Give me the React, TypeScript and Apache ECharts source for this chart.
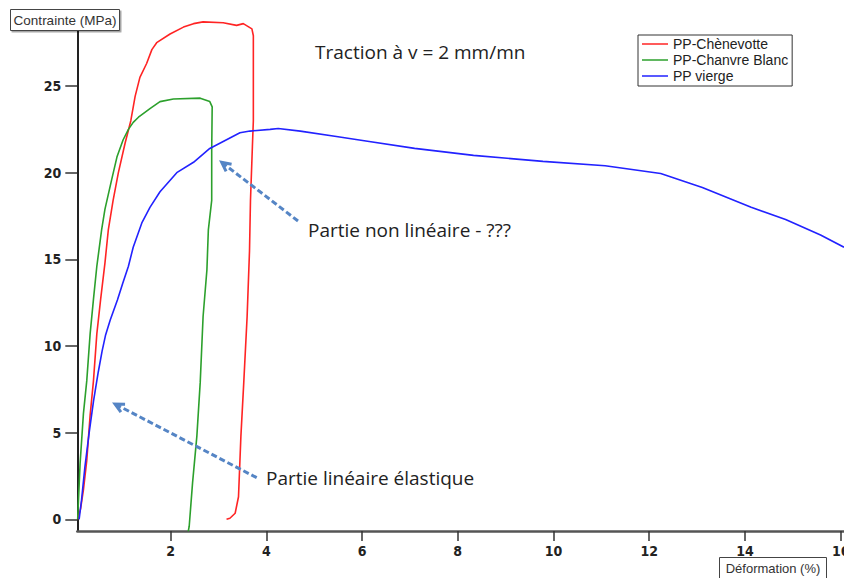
import React, { useEffect, useRef } from "react";
import * as echarts from "echarts";

// ---- data ----
const seriesNames = ["PP-Chènevotte", "PP-Chanvre Blanc", "PP vierge"];

const redStrain = [0.06, 0.12, 0.18, 0.25, 0.32, 0.39, 0.46, 0.54, 0.63, 0.70, 0.80, 0.91, 1.05, 1.17, 1.26, 1.36, 1.50, 1.61, 1.71, 1.99, 2.27, 2.48, 2.68, 3.10, 3.38, 3.52, 3.70, 3.73, 3.73, 3.71, 3.67, 3.65, 3.60, 3.53, 3.47, 3.42, 3.35, 3.24, 3.17];
const redStress = [0, 0.6, 1.7, 3.4, 6.0, 8.0, 10.7, 12.7, 14.8, 16.7, 18.4, 20.0, 21.7, 23.0, 24.4, 25.5, 26.3, 27.1, 27.5, 28.0, 28.4, 28.6, 28.7, 28.65, 28.5, 28.6, 28.3, 27.9, 23.0, 21.5, 18.4, 15.5, 11.7, 7.9, 4.8, 1.3, 0.35, 0.06, 0];

const greenStrain = [0.06, 0.07, 0.11, 0.18, 0.25, 0.32, 0.39, 0.46, 0.56, 0.63, 0.77, 0.88, 1.01, 1.12, 1.22, 1.33, 1.57, 1.78, 2.06, 2.62, 2.82, 2.87, 2.86, 2.86, 2.79, 2.76, 2.68, 2.62, 2.55, 2.46, 2.39, 2.37];
const greenStress = [0, 0.7, 3.2, 6.1, 8.0, 10.7, 12.7, 14.6, 16.7, 17.9, 19.6, 20.9, 21.9, 22.5, 22.9, 23.2, 23.7, 24.1, 24.25, 24.3, 24.1, 23.8, 21.3, 18.4, 16.7, 14.4, 11.7, 7.9, 4.8, 2.1, -0.4, -0.7];

const blueStrain = [0.09, 0.14, 0.21, 0.30, 0.39, 0.49, 0.57, 0.64, 0.74, 0.89, 1.00, 1.12, 1.22, 1.40, 1.57, 1.78, 2.13, 2.48, 2.82, 3.17, 3.45, 3.66, 4.08, 4.25, 4.71, 5.43, 6.15, 7.10, 8.33, 9.78, 11.08, 12.24, 13.11, 14.13, 14.85, 15.58, 16.07];
const blueStress = [0, 1.1, 3.0, 5.0, 6.8, 8.5, 9.7, 10.6, 11.5, 12.65, 13.6, 14.6, 15.7, 17.1, 18.0, 18.9, 20.0, 20.6, 21.4, 21.9, 22.3, 22.4, 22.5, 22.55, 22.4, 22.1, 21.8, 21.4, 21.0, 20.65, 20.4, 19.95, 19.15, 18.0, 17.3, 16.4, 15.7];

const xTicks = [2, 4, 6, 8, 10, 12, 14, 16];
const yTicks = [0, 5, 10, 15, 20, 25];

const colors = ["#ff2424", "#2ca02c", "#2222ff"];

const zip = (a: number[], b: number[]) => a.map((v, i) => [v, b[i]]);

const arrowColor = "#5585c5";

function arrow(x1: number, y1: number, x2: number, y2: number) {
  const dx = x2 - x1;
  const dy = y2 - y1;
  const len = Math.sqrt(dx * dx + dy * dy);
  const ux = dx / len;
  const uy = dy / len;
  const px = -uy;
  const py = ux;
  const bx = x2 - 9 * ux;
  const by = y2 - 9 * uy;
  return [
    {
      type: "line",
      shape: { x1, y1, x2: x2 - 2 * ux, y2: y2 - 2 * uy },
      style: { stroke: arrowColor, lineWidth: 3, lineDash: [6, 3] },
      z: 10,
    },
    {
      type: "polyline",
      shape: {
        points: [
          [bx + 4.5 * px, by + 4.5 * py],
          [x2, y2],
          [bx - 4.5 * px, by - 4.5 * py],
        ],
      },
      style: { stroke: arrowColor, lineWidth: 3, fill: null },
      z: 10,
    },
  ];
}

export default function App() {
  const ref = useRef<HTMLDivElement>(null);

  useEffect(() => {
    if (!ref.current) return;
    const chart = echarts.init(ref.current, undefined, { renderer: "svg" });
    const tickFont = {
      fontFamily: "'Liberation Sans Narrow', 'DejaVu Sans Condensed', 'Liberation Sans', sans-serif",
      fontWeight: "bold" as const,
      fontSize: 14,
      color: "#222",
    };
    const annFont = "'Open Sans', Lato, sans-serif";
    chart.setOption({
      animation: false,
      backgroundColor: "#ffffff",
      grid: {
        left: 77.3,
        right: 0,
        top: 11.5,
        bottom: 47,
        containLabel: false,
        outerBoundsMode: "none",
      },
      xAxis: {
        type: "value",
        min: 0.052,
        max: 16.07,
        axisLine: { onZero: false, lineStyle: { color: "#555", width: 2.5 } },
        axisTick: { show: true, length: 10, customValues: xTicks, lineStyle: { color: "#333", width: 1.5 } },
        axisLabel: { customValues: xTicks, margin: 13, ...tickFont },
        splitLine: { show: false },
      },
      yAxis: {
        type: "value",
        min: -0.675,
        max: 29.3,
        axisLine: { show: true, onZero: false, lineStyle: { color: "#222", width: 2 } },
        axisTick: { show: true, length: 12, customValues: yTicks, lineStyle: { color: "#333", width: 1.5 } },
        axisLabel: { customValues: yTicks, margin: 16, ...tickFont },
        splitLine: { show: false },
      },
      legend: {
        orient: "vertical",
        left: 638,
        top: 35,
        padding: [1, 4, 2, 4],
        itemGap: 0,
        itemWidth: 26,
        itemHeight: 1.5,
        icon: "rect",
        backgroundColor: "#fff",
        borderColor: "#333",
        borderWidth: 1,
        borderRadius: 0,
        data: seriesNames,
        textStyle: {
          fontFamily: "'Liberation Sans', Arial, sans-serif",
          fontSize: 14,
          lineHeight: 16,
          color: "#222",
          padding: [0, 0, 0, 0],
        },
      },
      series: [
        { name: seriesNames[0], data: zip(redStrain, redStress), color: colors[0] },
        { name: seriesNames[1], data: zip(greenStrain, greenStress), color: colors[1] },
        { name: seriesNames[2], data: zip(blueStrain, blueStress), color: colors[2] },
      ].map((s) => ({
        ...s,
        type: "line",
        showSymbol: false,
        symbol: "none",
        clip: true,
        lineStyle: { width: 1.6, color: s.color },
        itemStyle: { color: s.color },
      })),
      graphic: [
        // y axis title box
        {
          type: "rect",
          shape: { x: 10.5, y: 9.5, width: 109, height: 21 },
          style: { fill: "#fff", stroke: "#444", lineWidth: 1, shadowColor: "rgba(0,0,0,0.35)", shadowOffsetX: 1.5, shadowOffsetY: 1.5, shadowBlur: 0 },
          z: 20,
        },
        {
          type: "text",
          x: 65,
          y: 20.5,
          style: {
            text: "Contrainte (MPa)",
            fill: "#333",
            font: "13.5px 'Liberation Sans', Arial, sans-serif",
            textAlign: "center",
            textVerticalAlign: "middle",
          },
          z: 21,
        },
        // x axis title box
        {
          type: "rect",
          shape: { x: 719.5, y: 557.5, width: 107, height: 24 },
          style: { fill: "#fff", stroke: "#444", lineWidth: 1 },
          z: 20,
        },
        {
          type: "text",
          x: 773,
          y: 568.5,
          style: {
            text: "Déformation (%)",
            fill: "#333",
            font: "13px 'Liberation Sans', Arial, sans-serif",
            textAlign: "center",
            textVerticalAlign: "middle",
          },
          z: 21,
        },
        {
          type: "text",
          x: 315,
          y: 52,
          style: {
            text: "Traction à v = 2 mm/mn",
            fill: "#222",
            font: `19px ${annFont}`,
            textAlign: "left",
            textVerticalAlign: "middle",
          },
          z: 21,
        },
        {
          type: "text",
          x: 308,
          y: 230,
          style: {
            text: "Partie non linéaire - ???",
            fill: "#222",
            font: `19px ${annFont}`,
            textAlign: "left",
            textVerticalAlign: "middle",
          },
          z: 21,
        },
        {
          type: "text",
          x: 266,
          y: 478,
          style: {
            text: "Partie linéaire élastique",
            fill: "#222",
            font: `19px ${annFont}`,
            textAlign: "left",
            textVerticalAlign: "middle",
          },
          z: 21,
        },
        ...arrow(298, 221, 221.7, 162.3),
        ...arrow(256.7, 477.7, 115, 404),
      ],
    });
    return () => chart.dispose();
  }, []);

  return (
    <div
      ref={ref}
      style={{ position: "absolute", left: 0, top: 0, width: 844, height: 578 }}
    />
  );
}
